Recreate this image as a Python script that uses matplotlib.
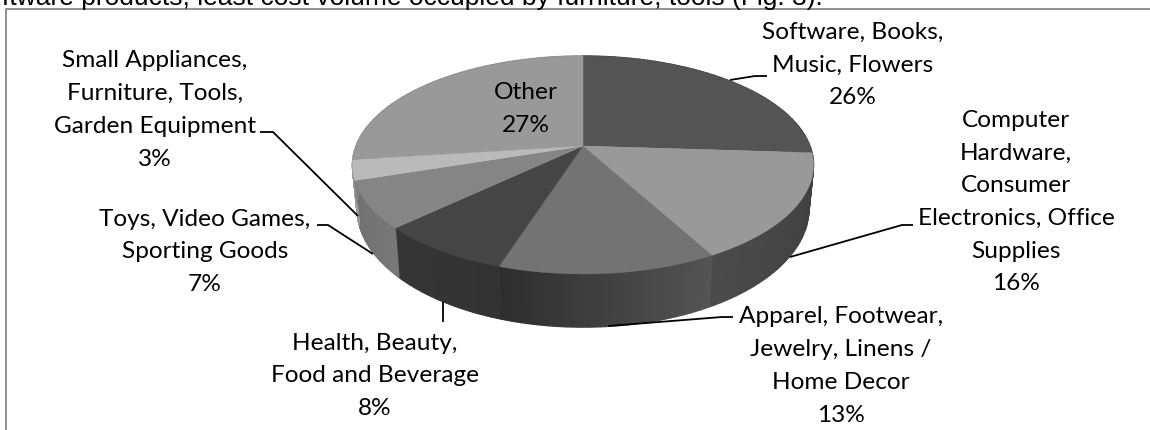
import numpy as np
import matplotlib
matplotlib.use("Agg")
import matplotlib.pyplot as plt
from matplotlib.patches import Polygon

# chart data, clockwise from 12 o'clock
labels = [
    "Software, Books,\nMusic, Flowers\n26%",
    "Computer\nHardware,\nConsumer\nElectronics, Office\nSupplies\n16%",
    "Apparel, Footwear,\nJewelry, Linens /\nHome Decor\n13%",
    "Health, Beauty,\nFood and Beverage\n8%",
    "Toys, Video Games,\nSporting Goods\n7%",
    "Small Appliances,\nFurniture, Tools,\nGarden Equipment\n3%",
    "Other\n27%",
]
shares = [26, 16, 13, 8, 7, 3, 27]
top_greys = [0.33, 0.60, 0.45, 0.27, 0.52, 0.73, 0.60]
side_greys = [(0.25, 0.25), (0.24, 0.29), (0.33, 0.18), (0.20, 0.21), (0.47, 0.44), (0.6, 0.6), (0.5, 0.5)]
label_pos = [(853, 65), (1016, 202), (841, 366), (375, 376), (205, 252), (155, 110), (526, 109)]
leaders = [
    [(730, 81), (755, 77), (767, 77)],
    [(790, 258), (902, 226), (913, 226)],
    [(608, 327), (722, 318), (733, 318)],
    [(443, 303), (443, 323)],
    [(373, 255), (328, 226), (317, 226)],
    [(358, 217), (273, 133), (260, 133)],
]

# hub of the pie and the perspective of the disc, in picture pixels
hub_x, hub_y = 583, 147
persp = 0.174
scale_x, scale_y = 227, 105.7


def project(t):
    # t is clockwise from the top of the pie, in radians
    u, v = np.sin(t), np.cos(t)
    d = 1 + persp * v
    return scale_x * u / d, scale_y * v / d


def top_rim(t):
    x, y = project(t)
    return hub_x + x, hub_y - y


def bottom_rim(t):
    x, y = project(t)
    return hub_x + 0.98 * x, hub_y + 42 - 1.087 * y


fig = plt.figure(figsize=(11.5, 4.31), dpi=100)
ax = fig.add_axes([0, 0, 1, 1])
ax.set_xlim(0, 1150)
ax.set_ylim(431, 0)
ax.axis("off")

# frame of the chart, the right side is outside the picture
ax.plot([6, 6, 1150], [431, 9.5, 9.5], color="#888888", lw=1.3, zorder=1)

# line of body text cut off by the top of the picture
ax.text(823, 5, "ftware products, least cost volume occupied by furniture, tools (Fig. 3).",
        family="Liberation Sans", fontsize=19, color="black", va="baseline", ha="right", zorder=2)

edges = np.cumsum([0] + shares) / sum(shares) * 2 * np.pi

# side wall first, the top disc covers whatever is at the back
for i in range(len(shares)):
    ts = np.linspace(edges[i], edges[i + 1], 40)
    shade = np.linspace(side_greys[i][0], side_greys[i][1], len(ts) - 1)
    for j in range(len(ts) - 1):
        x0, y0 = top_rim(ts[j])
        x1, y1 = top_rim(ts[j + 1])
        x2, y2 = bottom_rim(ts[j + 1])
        x3, y3 = bottom_rim(ts[j])
        c = str(shade[j])
        ax.add_patch(Polygon([(x0, y0), (x1, y1), (x2, y2), (x3, y3)], closed=True, fc=c, ec=c, lw=1.0, zorder=3))

# top disc
for i in range(len(shares)):
    ts = np.linspace(edges[i], edges[i + 1], 80)
    xs, ys = top_rim(ts)
    pts = [(hub_x, hub_y)] + list(zip(xs, ys))
    c = str(top_greys[i])
    ax.add_patch(Polygon(pts, closed=True, fc=c, ec=c, lw=0.3, zorder=4))

for line in leaders:
    xs, ys = zip(*line)
    ax.plot(xs, ys, color="black", lw=1.3, zorder=5, solid_capstyle="butt")

for text, (x, y) in zip(labels, label_pos):
    ax.text(x, y, text, family="Lato", fontsize=17.6, color="black", ha="center", va="center",
            linespacing=1.69, zorder=6)

fig.savefig("out.png", dpi=100)
